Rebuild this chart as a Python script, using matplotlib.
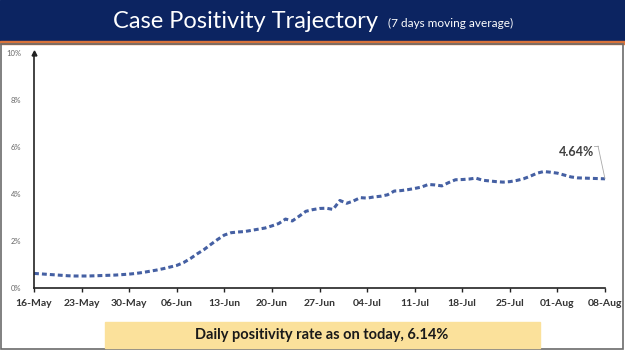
import matplotlib

matplotlib.use("Agg")
import matplotlib.pyplot as plt
import pandas as pd
from matplotlib.lines import Line2D
from matplotlib.patches import Rectangle

# 7-day moving average positivity (%), daily from 16-May to 08-Aug
start_date = "2020-05-16"
positivity = [
    0.62, 0.60, 0.58, 0.56, 0.54, 0.52, 0.51, 0.51, 0.51, 0.52,
    0.53, 0.54, 0.55, 0.57, 0.59, 0.62, 0.66, 0.71, 0.76, 0.82,
    0.89, 0.96, 1.08, 1.25, 1.45, 1.63, 1.85, 2.06, 2.25, 2.35,
    2.38, 2.40, 2.45, 2.50, 2.55, 2.64, 2.74, 2.93, 2.85, 3.05,
    3.26, 3.33, 3.38, 3.39, 3.34, 3.72, 3.60, 3.70, 3.84, 3.82,
    3.87, 3.90, 3.96, 4.12, 4.14, 4.18, 4.23, 4.29, 4.40, 4.38,
    4.34, 4.48, 4.60, 4.61, 4.63, 4.67, 4.58, 4.55, 4.52, 4.50,
    4.52, 4.57, 4.64, 4.75, 4.88, 4.95, 4.92, 4.88, 4.80, 4.72,
    4.68, 4.67, 4.66, 4.65, 4.64,
]
dates = pd.date_range(start_date, periods=len(positivity), freq="D")
last_label = "4.64%"

title = "Case Positivity Trajectory"
subtitle = "(7 days moving average)"
footer = "Daily positivity rate as on today, 6.14%"

navy = "#0c2461"
orange = "#d9733a"
line_color = "#4560a3"

plt.rcParams["font.family"] = ["Lato", "DejaVu Sans"]

fig = plt.figure(figsize=(6.25, 3.51), dpi=100)
W, H = 625, 351

# header band and frame
fig.patches.append(Rectangle((0, 1 - 41 / H), 1, 41 / H, transform=fig.transFigure,
                             color=navy, zorder=0))
fig.patches.append(Rectangle((0, 1 - 43.5 / H), 1, 2.5 / H, transform=fig.transFigure,
                             color=orange, zorder=0))
fig.patches.append(Rectangle((1.5 / W, 2.5 / H), 1 - 3.5 / W, 1 - 46.5 / H,
                             transform=fig.transFigure, fill=False,
                             edgecolor="#6b6b6b", lw=1.2, zorder=0))
fig.text(113 / W, 1 - 21 / H, title, color="white", fontsize=17,
         ha="left", va="center")
fig.text(388 / W, 1 - 23 / H, subtitle, color="white", fontsize=8.5,
         ha="left", va="center")

# footer box
fig.patches.append(Rectangle((105 / W, 1 - 348 / H), 435 / W, 26 / H,
                             transform=fig.transFigure, color="#fbe19b", zorder=0))
fig.text(322 / W, 1 - 335 / H, footer, color="#1a1a1a", fontsize=10.5,
         fontweight="bold", ha="center", va="center")

ax = fig.add_axes([34 / W, 1 - 288 / H, 571 / W, 235.3 / H])
ax.plot(dates, positivity, color=line_color, lw=2.2, dashes=(1.6, 1.0),
        dash_capstyle="butt", clip_on=False)

ax.set_ylim(0, 10)
ax.set_xlim(dates[0], dates[-1])
ax.set_yticks(range(0, 11, 2))
ax.set_yticklabels([f"{v}%" for v in range(0, 11, 2)])
ticks = pd.date_range(dates[0], dates[-1], freq="7D")
ax.set_xticks(ticks)
ax.set_xticklabels([d.strftime("%d-%b") for d in ticks])

for s in ["top", "right"]:
    ax.spines[s].set_visible(False)
for s in ["left", "bottom"]:
    ax.spines[s].set_color("#222222")
    ax.spines[s].set_linewidth(1.2)
ax.plot([0], [1], marker="^", ms=3.5, color="#222222", transform=ax.transAxes,
        clip_on=False)
ax.tick_params(axis="y", length=0, labelsize=5.5, labelcolor="#666666", pad=9)
ax.tick_params(axis="x", direction="out", length=3, width=1, color="#222222",
               labelsize=7.5, labelcolor="#333333", pad=5)
for lab in ax.get_xticklabels():
    lab.set_fontweight("bold")

# data label with leader line to the last point
fig.text(577 / W, 1 - 152 / H, last_label, fontsize=9, fontweight="bold",
         color="#404040", ha="center", va="center")
fig.lines.append(Line2D([594 / W, 598 / W], [1 - 146 / H, 1 - 146 / H],
                        transform=fig.transFigure, color="#a8a8a8", lw=0.6))
ax.annotate("", xy=(dates[-1], positivity[-1]),
            xytext=(598 / W, 1 - 146 / H), textcoords="figure fraction",
            arrowprops=dict(arrowstyle="-", color="#a8a8a8", lw=0.6,
                            shrinkA=0, shrinkB=0))

fig.savefig("out.png", dpi=100)
